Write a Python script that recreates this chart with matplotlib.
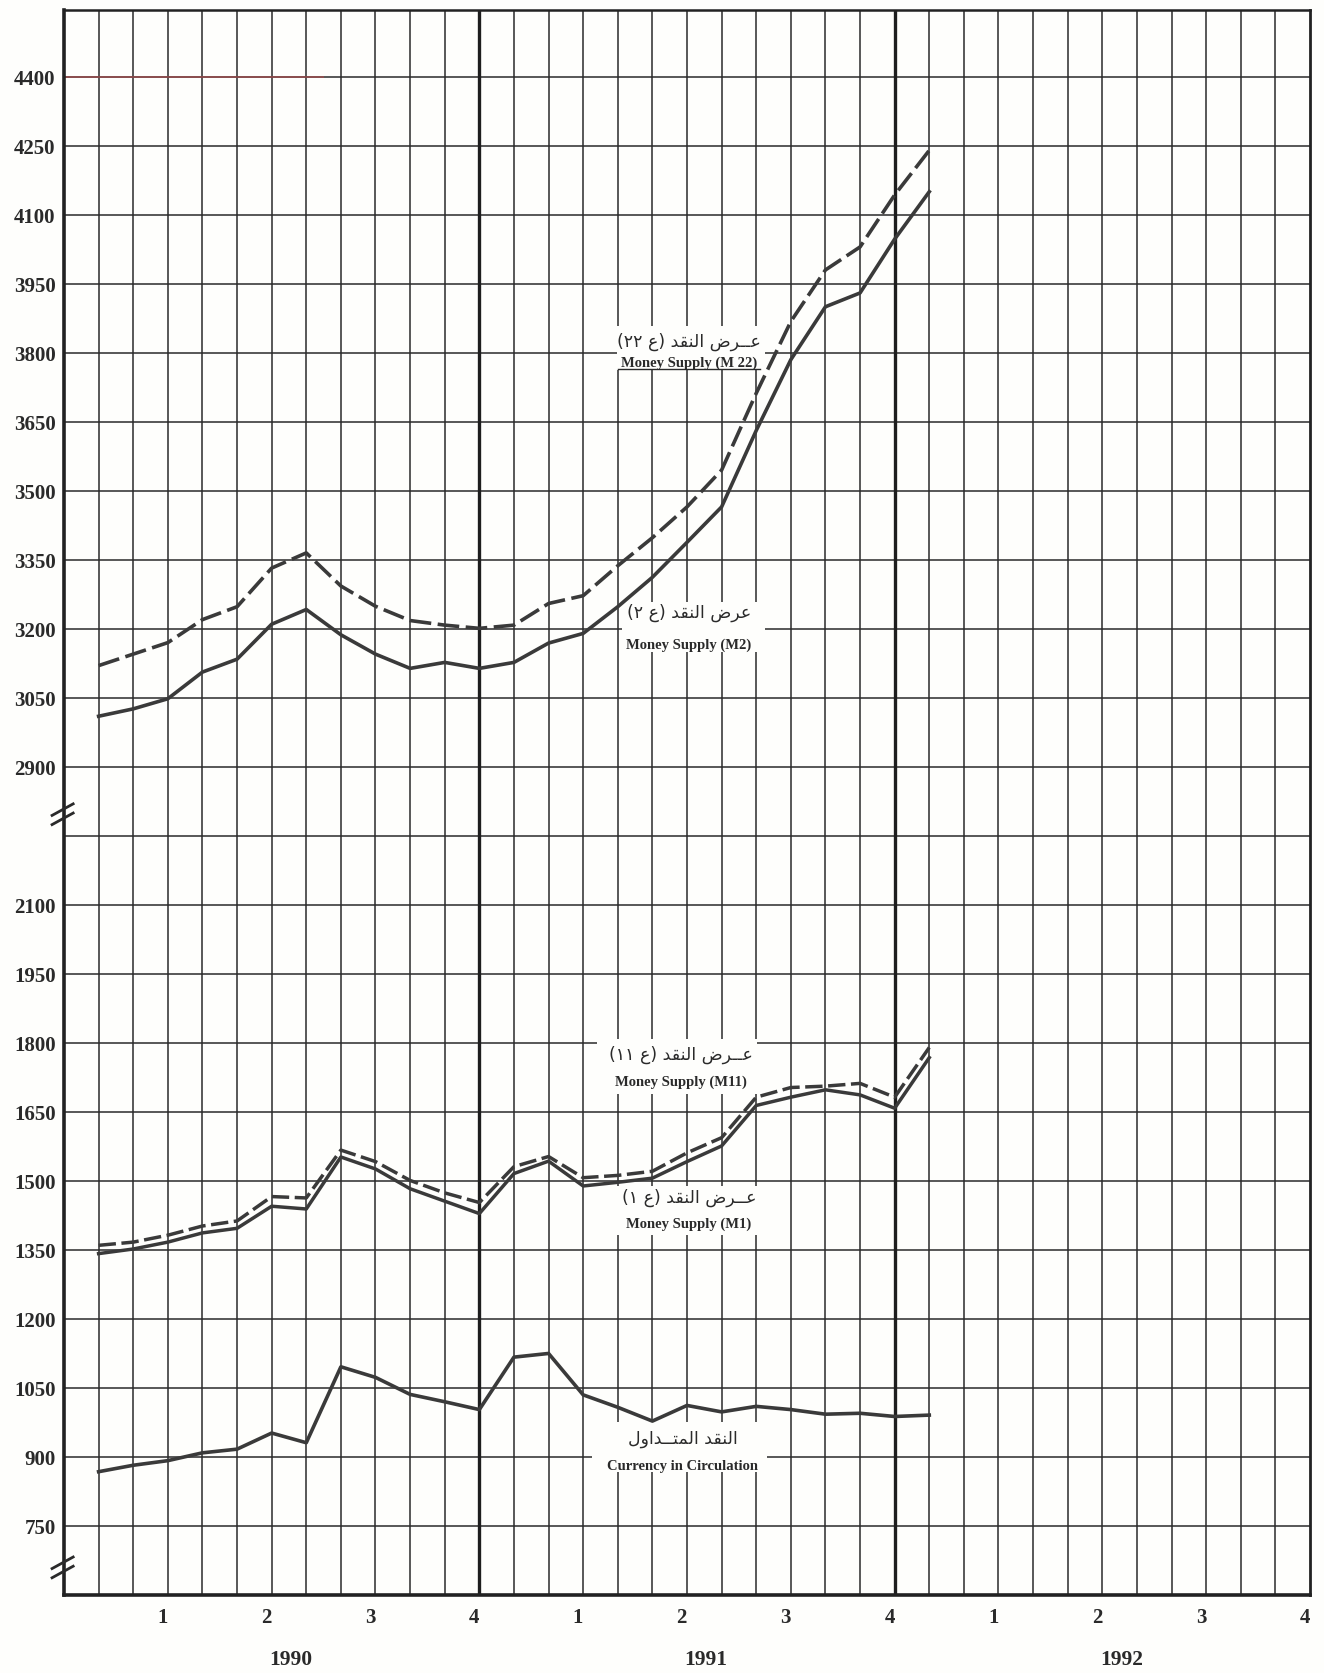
import matplotlib
matplotlib.use("Agg")
import matplotlib.pyplot as plt
import matplotlib.transforms as mtransforms
from matplotlib.patches import Rectangle
import numpy as np

# ---- data (millions), monthly Jan 1990 .. Jan 1992 ----
month_index = list(range(1, 26))

money_supply_m22 = [3120, 3145, 3170, 3220, 3248, 3332, 3365, 3293, 3249, 3218, 3208, 3201,
                    3208, 3255, 3272, 3337, 3398, 3465, 3545, 3712, 3868, 3980, 4030, 4143, 4240]
money_supply_m2 = [3010, 3026, 3048, 3106, 3134, 3210, 3242, 3187, 3145, 3114, 3127, 3114,
                   3127, 3169, 3190, 3248, 3312, 3388, 3465, 3631, 3785, 3900, 3930, 4047, 4150]
money_supply_m11 = [1360, 1367, 1382, 1402, 1413, 1466, 1463, 1567, 1542, 1501, 1474, 1453,
                    1531, 1553, 1507, 1512, 1521, 1561, 1594, 1682, 1703, 1706, 1712, 1682, 1790]
money_supply_m1 = [1342, 1352, 1367, 1387, 1397, 1445, 1439, 1552, 1526, 1483, 1456, 1429,
                   1516, 1543, 1489, 1497, 1506, 1542, 1576, 1664, 1682, 1698, 1687, 1658, 1768]
currency = [868, 882, 892, 909, 917, 952, 931, 1096, 1073, 1036, 1020, 1003,
            1117, 1125, 1035, 1008, 978, 1012, 998, 1010, 1003, 993, 995, 988, 991]

upper_ticks = [2900, 3050, 3200, 3350, 3500, 3650, 3800, 3950, 4100, 4250, 4400]
lower_ticks = [750, 900, 1050, 1200, 1350, 1500, 1650, 1800, 1950, 2100]
years = ["1990", "1991", "1992"]
quarters = ["1", "2", "3", "4"]

AR_M22 = "عــرض النقد (ع ٢٢)"
AR_M2 = "عرض النقد (ع ٢)"
AR_M11 = "عــرض النقد (ع ١١)"
AR_M1 = "عــرض النقد (ع ١)"
AR_CUR = "النقد المتــداول"

# lower panel values are drawn shifted up on the same axis (broken scale)
LOWER_SHIFT = 500
N_MONTHS = 36

INK = "#2a2a2a"
LINE = "#3a3a3a"
SERIF = "Liberation Serif"
ARABIC = "DejaVu Sans"

# ---- minimal arabic shaping (presentation forms + visual order) ----
DUAL = {
    "ع": (0xFEC9, 0xFECA, 0xFECB, 0xFECC),
    "ض": (0xFEBD, 0xFEBE, 0xFEBF, 0xFEC0),
    "ل": (0xFEDD, 0xFEDE, 0xFEDF, 0xFEE0),
    "ن": (0xFEE5, 0xFEE6, 0xFEE7, 0xFEE8),
    "ق": (0xFED5, 0xFED6, 0xFED7, 0xFED8),
    "م": (0xFEE1, 0xFEE2, 0xFEE3, 0xFEE4),
    "ت": (0xFE95, 0xFE96, 0xFE97, 0xFE98),
}
RIGHT = {
    "ا": (0xFE8D, 0xFE8E),
    "د": (0xFEA9, 0xFEAA),
    "ر": (0xFEAD, 0xFEAE),
    "و": (0xFEED, 0xFEEE),
}
TATWEEL = "ـ"


def joins_next(c):
    return c in DUAL or c == TATWEEL


def joins_prev(c):
    return c in DUAL or c in RIGHT or c == TATWEEL


def shape_arabic(text):
    out = []
    for i, c in enumerate(text):
        prev = text[i - 1] if i > 0 else None
        nxt = text[i + 1] if i + 1 < len(text) else None
        p = prev is not None and joins_next(prev)
        n = nxt is not None and joins_prev(nxt) and joins_next(c)
        if c in DUAL:
            forms = DUAL[c]
            idx = 3 if (p and n) else 1 if p else 2 if n else 0
            out.append(chr(forms[idx]))
        elif c in RIGHT:
            out.append(chr(RIGHT[c][1 if p else 0]))
        else:
            out.append(c)
    visual = "".join(reversed(out))
    return visual.translate(str.maketrans("()", ")("))


def lower(v):
    return v + LOWER_SHIFT


def add_label(ax, arabic, english, x, y_ar, y_en, box):
    x0, x1, y0, y1 = box
    ax.add_patch(Rectangle((x0, y0), x1 - x0, y1 - y0, facecolor="#fefefc",
                           edgecolor="none", zorder=3))
    ax.text(x, y_ar, shape_arabic(arabic), family=ARABIC, fontsize=12.5, color=INK,
            ha="center", va="center", zorder=4)
    ax.text(x, y_en, english, family=SERIF, fontweight="bold", fontsize=10.5, color=INK,
            ha="center", va="center", zorder=4)


def break_mark(ax, y):
    for dy in (10, -10):
        ax.plot([-0.38, 0.30], [y + dy - 14, y + dy + 14], color=INK, lw=2.0,
                clip_on=False, zorder=6, solid_capstyle="butt")


def main():
    fig = plt.figure(figsize=(13.24, 16.74), dpi=100)
    fig.patch.set_facecolor("#fefefc")
    ax = fig.add_axes([64 / 1324, 1 - 1596 / 1674, (1310 - 64) / 1324, (1596 - 11) / 1674])
    ax.set_facecolor("#fefefc")
    ax.set_xlim(0, N_MONTHS)
    ax.set_ylim(1100, 4545)

    # grid
    tick_pos = [lower(v) for v in lower_ticks] + [2750] + upper_ticks
    ax.hlines(tick_pos, 0, N_MONTHS, color=INK, lw=1.1, zorder=1)
    ax.hlines(4400, 0, 7.5, color="#9a4c4c", lw=1.1, zorder=1.5)
    thin = [m for m in range(1, N_MONTHS) if m % 12 != 0]
    ax.vlines(thin, 1100, 4545, color=INK, lw=1.1, zorder=1)
    ax.vlines([12, 24], 1100, 4545, color="#1e1e1e", lw=2.4, zorder=1)

    for side, lw in (("left", 2.6), ("bottom", 2.6), ("top", 1.8), ("right", 2.0)):
        ax.spines[side].set_linewidth(lw)
        ax.spines[side].set_color("#222222")

    # series
    ax.plot(month_index, money_supply_m22, color=LINE, lw=2.6, dashes=(6.0, 1.8), zorder=5)
    ax.plot(month_index, money_supply_m2, color=LINE, lw=2.6, zorder=5)
    ax.plot(month_index, [lower(v) for v in money_supply_m11], color=LINE, lw=2.5,
            dashes=(5.0, 1.6), zorder=5)
    ax.plot(month_index, [lower(v) for v in money_supply_m1], color=LINE, lw=2.5, zorder=5)
    ax.plot(month_index, [lower(v) for v in currency], color=LINE, lw=2.6, zorder=5)

    # labels on white boxes
    add_label(ax, AR_M22, "Money Supply (M 22)", 18.05, 3826, 3780, (15.98, 20.25, 3763, 3858))
    ax.plot([16.0, 20.1], [3764, 3764], color=INK, lw=1.0, zorder=4)
    add_label(ax, AR_M2, "Money Supply (M2)", 18.06, 3236, 3167, (16.12, 20.25, 3150, 3258))
    add_label(ax, AR_M11, "Money Supply (M11)", 17.83, lower(1776), lower(1717),
              (15.40, 20.02, lower(1689), lower(1808)))
    add_label(ax, AR_M1, "Money Supply (M1)", 18.06, lower(1465), lower(1408),
              (15.92, 20.02, lower(1382), lower(1489)))
    add_label(ax, AR_CUR, "Currency in Circulation", 17.88, lower(941), lower(882),
              (15.26, 20.31, lower(867), lower(976)))

    # y axis
    ax.set_yticks([lower(v) for v in lower_ticks] + upper_ticks,
                  [str(v) for v in lower_ticks] + [str(v) for v in upper_ticks])
    ax.tick_params(axis="y", length=0, pad=6)
    for t in ax.get_yticklabels():
        t.set_fontfamily(SERIF)
        t.set_fontweight("bold")
        t.set_fontsize(15)
        t.set_color(INK)

    break_mark(ax, 2797)
    break_mark(ax, 1160)

    # x axis: quarters and years
    q_pos = [12 * y + 3 * (q + 1) - 0.15 for y in range(len(years)) for q in range(len(quarters))]
    ax.set_xticks(q_pos, quarters * len(years))
    ax.tick_params(axis="x", length=0, pad=9)
    for t in ax.get_xticklabels():
        t.set_fontfamily(SERIF)
        t.set_fontweight("bold")
        t.set_fontsize(15)
        t.set_color(INK)

    trans = mtransforms.blended_transform_factory(ax.transData, ax.transAxes)
    for i, year in enumerate(years):
        ax.text(12 * i + 6.55, -0.0405, year, transform=trans, family=SERIF,
                fontweight="bold", fontsize=15.5, color=INK, ha="center", va="center")

    fig.savefig("out.png", dpi=100, facecolor=fig.get_facecolor())
    plt.close(fig)


if __name__ == "__main__":
    main()
